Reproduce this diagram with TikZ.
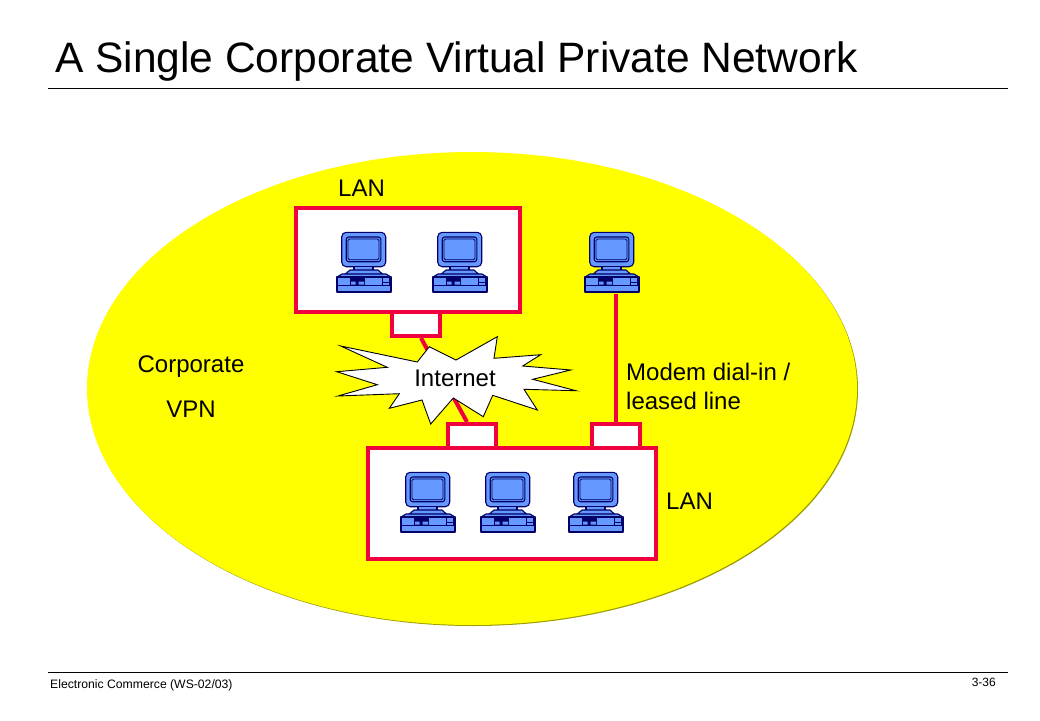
\documentclass[tikz,border=0pt]{standalone}
\usepackage{fontspec}
\setmainfont{Liberation Sans}
\definecolor{vpnred}{HTML}{F0003C}
\definecolor{pcblue}{HTML}{6699FF}
\definecolor{pcdark}{HTML}{000066}
\definecolor{vpnyellow}{HTML}{FFFF00}
\definecolor{vpnshadow}{HTML}{9C9C00}
\tikzset{
  x=1pt,y=-1pt,
  lanbox/.style={draw=vpnred,line width=4pt,fill=white,inner sep=0pt},
  modem/.style={draw=vpnred,line width=4pt,fill=white,inner sep=0pt,minimum width=48pt,minimum height=24pt},
  link/.style={draw=vpnred,line width=4pt},
  lbl/.style={inner sep=0pt,font=\fontsize{24}{28}\selectfont,text=black},
  pcpart/.style={draw=pcdark,fill=pcblue,line width=1.1pt,line join=round},
  pc/.pic={
    \draw[pcpart,rounded corners=4.5pt] (5.7,0.3) rectangle (49.7,34.7);
    \draw[pcpart,rounded corners=2.5pt] (10.2,5) rectangle (44.8,29.7);
    \draw[draw=pcdark,line width=0.8pt,rounded corners=1.5pt] (12,7) rectangle (43,27.7);
    \draw[pcpart] (18,34.7) rectangle (37,39.7);
    \draw[pcpart] (9,42.3) -- (14,38) -- (42,38) -- (46.7,42.3) -- cycle;
    \draw[pcpart] (1,45) -- (6,42) -- (50,42) -- (55,45) -- cycle;
    \draw[pcpart] (1,45) rectangle (55,60);
    \draw[draw=pcdark,line width=1.2pt] (1,53.3) -- (55,53.3);
    \fill[pcdark] (13.5,45.5) rectangle (29,53.5);
    \fill[pcblue] (15,49.5) rectangle (19.5,52.5) (22.5,49.5) rectangle (28,52.5);
    \draw[draw=pcdark,line width=0.8pt] (46.5,46) -- (46.5,53) (53,46) -- (53,53) (46.5,50) -- (53,50);
  }
}
\begin{document}
\begin{tikzpicture}
\useasboundingbox (0,0) rectangle (1040,720);
% title and rules
\node[anchor=base west,inner sep=0pt,font=\fontsize{42.5}{46}\selectfont] (title) at (55,72) {A Single Corporate Virtual Private Network};
\coordinate (tl) at (48,88); \coordinate (tr) at (1008,88);
\draw[line width=0.9pt] (tl) -- (tr);
\coordinate (fl) at (48,672); \coordinate (fr) at (1008,672);
\draw[line width=0.9pt] (fl) -- (fr);
\node[anchor=base west,inner sep=0pt,font=\fontsize{12.2}{14}\selectfont] (foot) at (50,688) {Electronic Commerce (WS-02/03)};
\node[anchor=base east,inner sep=0pt,font=\fontsize{12}{14}\selectfont] (page) at (996,686) {3-36};
% VPN ellipse
\fill[vpnshadow] (473,389.5) ellipse [x radius=385,y radius=236.5];
\fill[vpnyellow] (472,388.5) ellipse [x radius=385,y radius=236.5];
% LANs
\node[lanbox,minimum width=224pt,minimum height=104pt] (lantop) at (408,260) {};
\node[lanbox,minimum width=288pt,minimum height=111pt] (lanbot) at (512,503.5) {};
\node[modem] (m1) at (416,324) {};
\node[modem] (m2) at (472,436) {};
\node[modem] (m3) at (616,436) {};
% computers
\pic at (336,232) {pc};
\pic at (432,232) {pc};
\pic at (584,232) {pc};
\pic at (400,472) {pc};
\pic at (480,472) {pc};
\pic at (568,472) {pc};
\coordinate (pcfree) at (616,294);
% links
\draw[link] ([xshift=5pt]m1.south) -- ([xshift=-5pt]m2.north);
\draw[link] (pcfree) -- (m3.north);
% internet cloud
\draw[fill=white,draw=black,line width=0.9pt,line join=miter]
 (340.7,346) -- (417.3,362) -- (429.3,346.7) -- (456,360) -- (497.3,336.7) -- (494,358.3)
 -- (540.7,354.7) -- (522.7,366) -- (570.7,370) -- (532.7,379.3) -- (576,390.7) -- (524,389.3)
 -- (537.3,410) -- (492.7,395.3) -- (483.3,416.7) -- (453.3,398) -- (430.7,424) -- (422,400)
 -- (389.3,408.3) -- (399.3,393.7) -- (338,396) -- (377.3,384.7) -- (336.7,371.7) -- (387.3,367.3) -- cycle;
\node[lbl] (inet) at (455,378) {Internet};
% labels
\node[lbl,anchor=base west] (l1) at (338,196) {LAN};
\node[lbl,anchor=base west] (l2) at (666,509) {LAN};
\node[lbl,anchor=base] (c1) at (191,372) {Corporate};
\node[lbl,anchor=base] (c2) at (191,417) {VPN};
\node[lbl,anchor=base west] (d1) at (626,380) {Modem dial-in /};
\node[lbl,anchor=base west] (d2) at (626,409) {leased line};
\end{tikzpicture}
\end{document}
